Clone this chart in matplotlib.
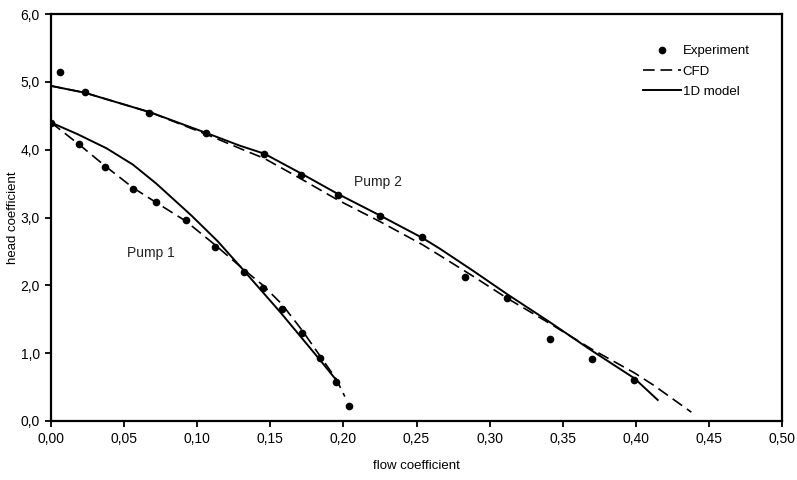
import matplotlib.pyplot as plt
from matplotlib.ticker import FuncFormatter

plt.rcParams['font.family'] = ['Liberation Sans', 'DejaVu Sans']

# Experiment points
pump1_exp_x = [0.000, 0.019, 0.037, 0.056, 0.072, 0.092, 0.112, 0.132, 0.145, 0.158, 0.172, 0.184, 0.195, 0.204]
pump1_exp_y = [4.40, 4.09, 3.75, 3.42, 3.23, 2.96, 2.56, 2.20, 1.96, 1.65, 1.30, 0.93, 0.58, 0.22]
pump2_exp_x = [0.006, 0.023, 0.067, 0.106, 0.146, 0.171, 0.196, 0.225, 0.254, 0.283, 0.312, 0.341, 0.370, 0.399]
pump2_exp_y = [5.15, 4.85, 4.54, 4.25, 3.94, 3.63, 3.33, 3.02, 2.71, 2.12, 1.81, 1.21, 0.91, 0.60]

# CFD curves
pump1_cfd_x = [0.000, 0.019, 0.037, 0.056, 0.072, 0.092, 0.112, 0.132, 0.145, 0.158, 0.172, 0.184, 0.195, 0.201]
pump1_cfd_y = [4.40, 4.08, 3.76, 3.44, 3.22, 2.95, 2.60, 2.23, 2.00, 1.72, 1.33, 0.96, 0.62, 0.36]
pump2_cfd_x = [0.000, 0.023, 0.068, 0.107, 0.129, 0.146, 0.171, 0.196, 0.225, 0.254, 0.266,
               0.289, 0.312, 0.341, 0.369, 0.399, 0.412, 0.438]
pump2_cfd_y = [4.94, 4.84, 4.55, 4.22, 4.02, 3.87, 3.57, 3.26, 2.94, 2.60, 2.44,
               2.13, 1.81, 1.44, 1.07, 0.71, 0.53, 0.13]

# 1D model curves
pump1_1d_x = [0.000, 0.018, 0.038, 0.056, 0.072, 0.096, 0.114, 0.131, 0.157, 0.184, 0.196]
pump1_1d_y = [4.40, 4.23, 4.02, 3.78, 3.50, 3.03, 2.65, 2.24, 1.60, 0.90, 0.58]
pump2_1d_x = [0.000, 0.023, 0.068, 0.107, 0.129, 0.146, 0.171, 0.196, 0.225, 0.254, 0.266,
              0.289, 0.312, 0.341, 0.369, 0.399, 0.415]
pump2_1d_y = [4.94, 4.84, 4.55, 4.24, 4.06, 3.94, 3.65, 3.35, 3.03, 2.70, 2.54,
              2.21, 1.87, 1.46, 1.05, 0.63, 0.31]

fig = plt.figure(figsize=(7.97, 4.8), dpi=100)
ax = fig.add_axes([51 / 797, 1 - 421 / 480, 731 / 797, 407 / 480])

dash = (7, 3.5)
ax.plot(pump2_exp_x, pump2_exp_y, 'o', color='black', markersize=4.5, label='Experiment')
ax.plot(pump1_exp_x, pump1_exp_y, 'o', color='black', markersize=4.5)
ax.plot(pump2_cfd_x, pump2_cfd_y, color='black', lw=1.2, dashes=dash, label='CFD')
ax.plot(pump1_cfd_x, pump1_cfd_y, color='black', lw=1.2, dashes=dash)
ax.plot(pump2_1d_x, pump2_1d_y, color='black', lw=1.4, label='1D model')
ax.plot(pump1_1d_x, pump1_1d_y, color='black', lw=1.4)

ax.text(0.207, 3.52, 'Pump 2', fontsize=10, color='#222222', va='center')
ax.text(0.052, 2.48, 'Pump 1', fontsize=10, color='#222222', va='center')

ax.set_xlim(0, 0.5)
ax.set_ylim(0, 6)
ax.set_xticks([0.0, 0.05, 0.1, 0.15, 0.2, 0.25, 0.3, 0.35, 0.4, 0.45, 0.5])
ax.set_yticks([0, 1, 2, 3, 4, 5, 6])
ax.xaxis.set_major_formatter(FuncFormatter(lambda v, p: f'{v:.2f}'.replace('.', ',')))
ax.yaxis.set_major_formatter(FuncFormatter(lambda v, p: f'{v:.1f}'.replace('.', ',')))
ax.tick_params(direction='out', length=4, width=1.3, labelsize=10, pad=4)

for s in ax.spines.values():
    s.set_linewidth(1.6)

ax.set_xlabel('flow coefficient', fontsize=9.5, labelpad=10)
ax.set_ylabel('head coefficient', fontsize=9.5, labelpad=1)

ax.legend(loc='upper left', bbox_to_anchor=(0.802, 0.937), frameon=False,
          fontsize=9.5, handlelength=2.9, handletextpad=0.15, labelspacing=0.62,
          borderaxespad=0)

fig.savefig('out.png', dpi=100)
